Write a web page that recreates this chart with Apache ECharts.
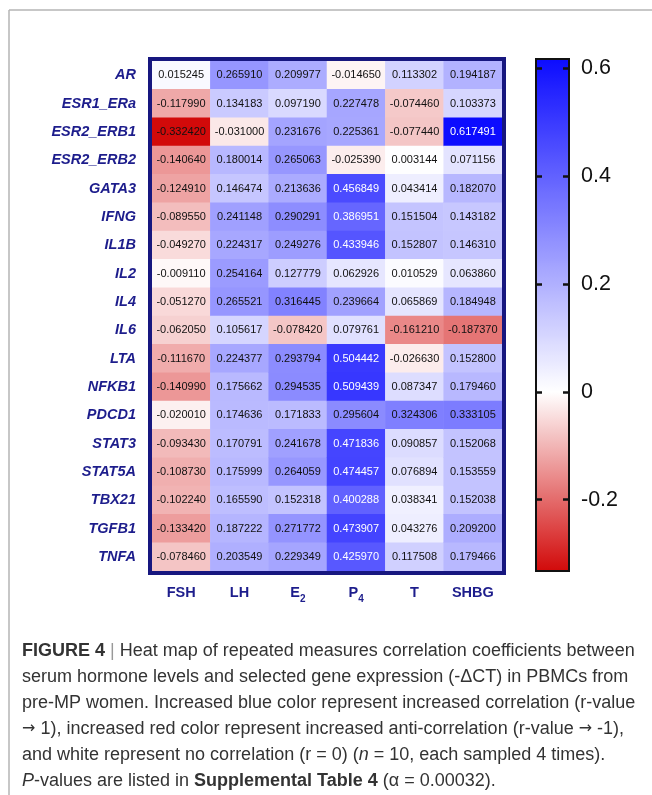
<!DOCTYPE html>
<html><head><meta charset="utf-8">
<script src="https://cdn.jsdelivr.net/npm/echarts@6/dist/echarts.min.js"></script>
<style>html,body{margin:0;padding:0;background:#fff}#c{width:652px;height:795px}</style>
</head><body><div id="c"></div>
<script>
const genes = ['AR','ESR1_ERa','ESR2_ERB1','ESR2_ERB2','GATA3','IFNG','IL1B','IL2','IL4','IL6','LTA','NFKB1','PDCD1','STAT3','STAT5A','TBX21','TGFB1','TNFA'];
const hormones = ['FSH','LH','E2','P4','T','SHBG'];
const FSH  = [0.015245,-0.117990,-0.332420,-0.140640,-0.124910,-0.089550,-0.049270,-0.009110,-0.051270,-0.062050,-0.111670,-0.140990,-0.020010,-0.093430,-0.108730,-0.102240,-0.133420,-0.078460];
const LH   = [0.265910,0.134183,-0.031000,0.180014,0.146474,0.241148,0.224317,0.254164,0.265521,0.105617,0.224377,0.175662,0.174636,0.170791,0.175999,0.165590,0.187222,0.203549];
const E2   = [0.209977,0.097190,0.231676,0.265063,0.213636,0.290291,0.249276,0.127779,0.316445,-0.078420,0.293794,0.294535,0.171833,0.241678,0.264059,0.152318,0.271772,0.229349];
const P4   = [-0.014650,0.227478,0.225361,-0.025390,0.456849,0.386951,0.433946,0.062926,0.239664,0.079761,0.504442,0.509439,0.295604,0.471836,0.474457,0.400288,0.473907,0.425970];
const T    = [0.113302,-0.074460,-0.077440,0.003144,0.043414,0.151504,0.152807,0.010529,0.065869,-0.161210,-0.026630,0.087347,0.324306,0.090857,0.076894,0.038341,0.043276,0.117508];
const SHBG = [0.194187,0.103373,0.617491,0.071156,0.182070,0.143182,0.146310,0.063860,0.184948,-0.187370,0.152800,0.179460,0.333105,0.152068,0.153559,0.152038,0.209200,0.179466];
const scaleMin = -0.33242, scaleMax = 0.617491;
const colorbarTicks = [-0.2, 0, 0.2, 0.4, 0.6];

const columns = [FSH, LH, E2, P4, T, SHBG];
const data = [];
columns.forEach((col, xi) => col.forEach((v, yi) => {
  data.push({value: [xi, yi, v], label: {color: v > 0.35 ? '#ffffff' : '#111111'}});
}));

const RED = [210, 10, 10], BLUE = [12, 12, 255];
function mix(c, t) { return 'rgb(' + c.map(k => Math.round(255 + (k - 255) * t)).join(',') + ')'; }
const stops = [];
const N = 120;
for (let i = 0; i <= N; i++) {
  const v = scaleMin + (scaleMax - scaleMin) * i / N;
  stops.push(v < 0 ? mix(RED, v / scaleMin) : mix(BLUE, v / scaleMax));
}

const NAVY = '#1d1d8c';
const FONT = 'Liberation Sans, Arial, sans-serif';
const chart = echarts.init(document.getElementById('c'), null, {renderer: 'canvas'});

const CF = 18;
const capStyle = {fontFamily: FONT, fontSize: CF, fill: '#333333',
  rich: {b: {fontFamily: FONT, fontSize: CF, fontWeight: 'bold', fill: '#333333'},
         i: {fontFamily: FONT, fontSize: CF, fontStyle: 'italic', fill: '#333333'},
         a: {fontFamily: 'DejaVu Sans, sans-serif', fontSize: CF - 2, fill: '#333333'},
         g: {fontFamily: FONT, fontSize: CF, fill: '#999999'}}};
const capLines = [
  '{b|FIGURE 4} {g||} Heat map of repeated measures correlation coefficients between',
  'serum hormone levels and selected gene expression (-\u0394CT) in PBMCs from',
  'pre-MP women. Increased blue color represent increased correlation (r-value',
  '{a|\u2192} 1), increased red color represent increased anti-correlation (r-value {a|\u2192} -1),',
  'and white represent no correlation (r = 0) ({i|n} = 10, each sampled 4 times).',
  '{i|P}-values are listed in {b|Supplemental Table 4} (\u03b1 = 0.00032).'
];
const graphics = capLines.map((t, k) => ({
  type: 'text', left: 22, top: 653 + 26 * k - 11,
  style: Object.assign({text: t}, capStyle)
}));
graphics.push({type: 'line', shape: {x1: 9, y1: 10, x2: 652, y2: 10}, style: {stroke: '#b4b4b4', lineWidth: 1.5}});
graphics.push({type: 'line', shape: {x1: 9, y1: 10, x2: 9, y2: 795}, style: {stroke: '#b4b4b4', lineWidth: 1.5}});
graphics.push({type: 'rect', shape: {x: 150, y: 59, width: 354, height: 514}, style: {fill: 'none', stroke: '#17177f', lineWidth: 4}, z: 100});

const subMap = {E2: '{m|E}{s|2}', P4: '{m|P}{s|4}'};
const tickAxis = (pos, withLabels) => ({
  type: 'value', gridIndex: 1, position: pos, offset: 0, min: scaleMin, max: scaleMax, z: 30,
  axisLine: {show: false, onZero: false}, splitLine: {show: false},
  axisTick: {show: true, inside: true, length: 6, lineStyle: {color: '#111', width: 2.5}, customValues: colorbarTicks},
  axisLabel: withLabels ? {show: true, margin: 12, color: '#111', fontFamily: FONT, fontSize: 21.5, customValues: colorbarTicks,
      formatter: v => String(Math.round(v * 10) / 10)} : {show: false, customValues: colorbarTicks}
});

chart.setOption({
  animation: false,
  backgroundColor: '#ffffff',
  graphic: graphics,
  grid: [
    {left: 152, top: 61, width: 350, height: 510},
    {left: 536, top: 59, width: 33, height: 512, show: true, borderColor: '#111111', borderWidth: 2, backgroundColor: 'transparent', z: 10}
  ],
  xAxis: [
    {type: 'category', data: hormones, gridIndex: 0, position: 'bottom',
     axisLine: {show: false}, axisTick: {show: false}, splitLine: {show: false},
     axisLabel: {interval: 0, margin: 14, color: NAVY, fontFamily: FONT, fontWeight: 'bold', fontSize: 14.5,
       formatter: v => subMap[v] || ('{m|' + v + '}'),
       rich: {m: {color: NAVY, fontFamily: FONT, fontWeight: 'bold', fontSize: 14.5, lineHeight: 18, verticalAlign: 'top'},
              s: {color: NAVY, fontFamily: FONT, fontWeight: 'bold', fontSize: 10, lineHeight: 10, padding: [9, 0, 0, 0], verticalAlign: 'top'}}}},
    {type: 'value', gridIndex: 1, show: false, min: 0, max: 1}
  ],
  yAxis: [
    {type: 'category', data: genes, inverse: true, gridIndex: 0,
     axisLine: {show: false}, axisTick: {show: false}, splitLine: {show: false},
     axisLabel: {interval: 0, margin: 16, color: NAVY, fontFamily: FONT, fontWeight: 'bold', fontStyle: 'italic', fontSize: 14.5}},
    tickAxis('right', true),
    tickAxis('left', false)
  ],
  visualMap: {
    type: 'continuous', min: scaleMin, max: scaleMax, seriesIndex: 0,
    inRange: {color: stops}, calculable: false, hoverLink: false,
    orient: 'vertical', left: 536, top: 59, itemWidth: 33, itemHeight: 512,
    padding: 0, text: null, show: true, z: 2
  },
  series: [{
    type: 'heatmap', xAxisIndex: 0, yAxisIndex: 0, data: data,
    label: {show: true, fontFamily: FONT, fontSize: 11, formatter: p => p.value[2].toFixed(6)},
    emphasis: {disabled: true}
  }]
});
</script></body></html>
